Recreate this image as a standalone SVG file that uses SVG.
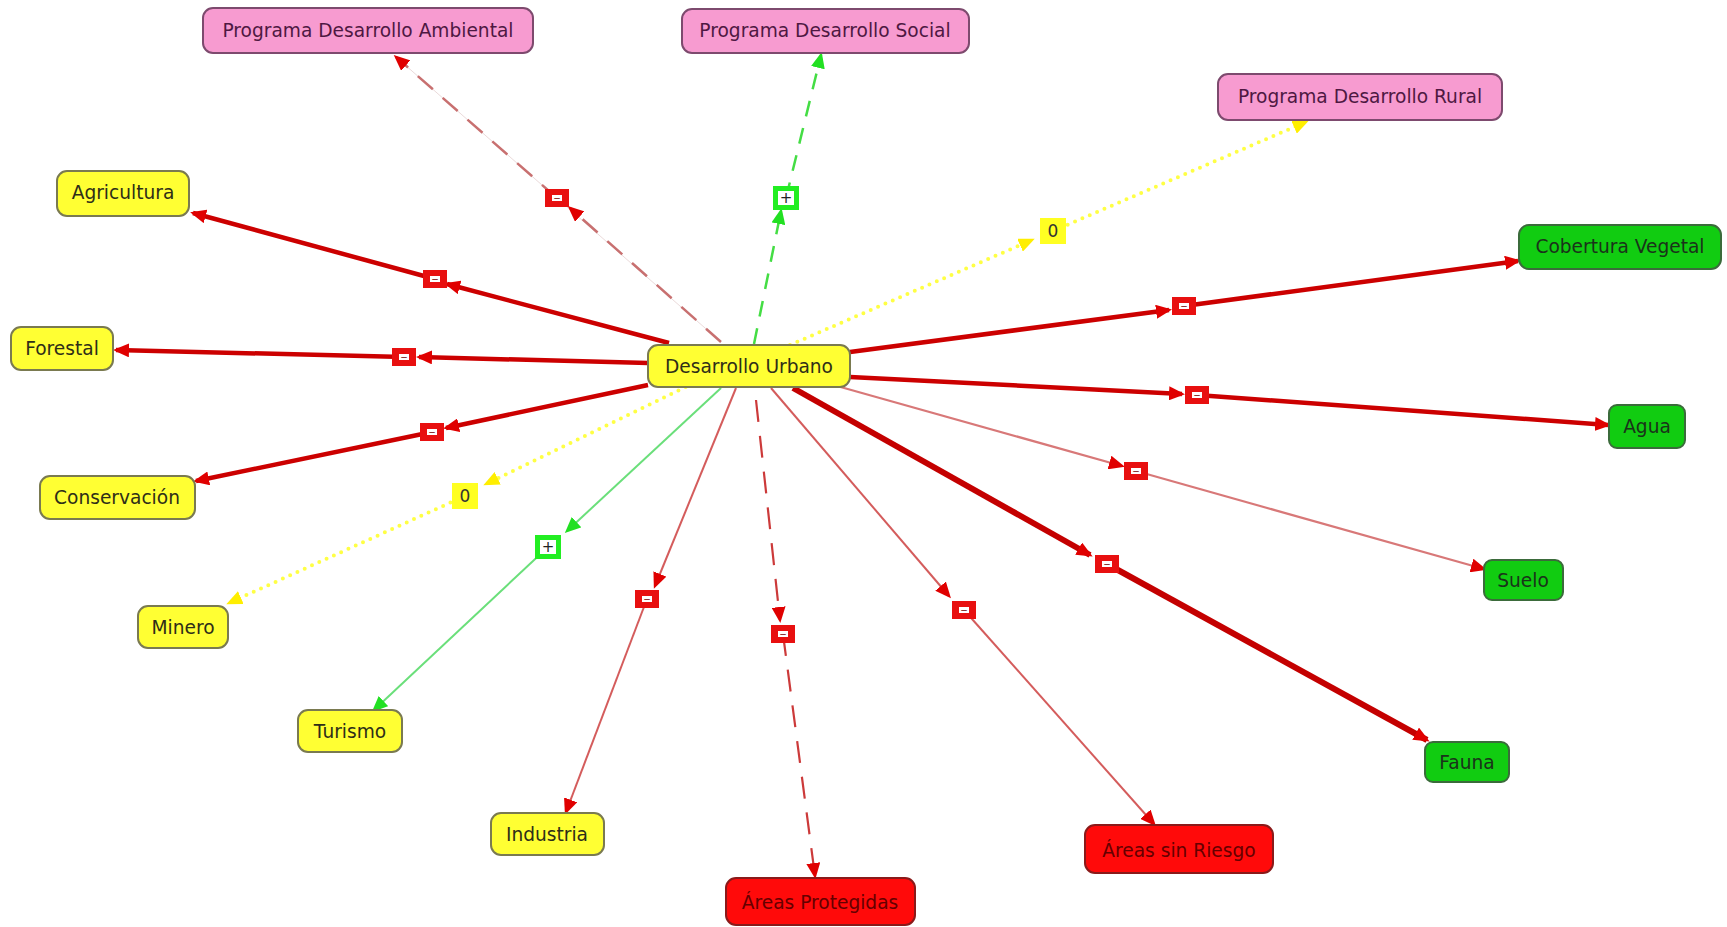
<svg xmlns="http://www.w3.org/2000/svg" width="1727" height="927" viewBox="0 0 1727 927">
  <style>
    .node rect { stroke-width: 2; }
    .node text { font-family: "DejaVu Sans", Verdana, sans-serif; font-size: 18.6px; text-anchor: middle; dominant-baseline: central; }
    .yellow rect { fill: #ffff33; stroke: #7a7a50; }
    .yellow text { fill: #2e2e18; }
    .pink rect { fill: #f79bd0; stroke: #7d4a6e; }
    .pink text { fill: #4e1842; }
    .green rect { fill: #11cc11; stroke: #3b6b3b; }
    .green text { fill: #1a331a; }
    .red rect { fill: #ff0a0a; stroke: #8a1a1a; }
    .red text { fill: #650000; }
    #connectors path { fill: none; }
    .thick { stroke: #cc0000; stroke-width: 4.5; }
    .thicker { stroke: #c40000; stroke-width: 6; }
    .thin { stroke: #d45c5c; stroke-width: 2; }
    .thinpink { stroke: #d87878; stroke-width: 2.2; }
    .dashred { stroke: #c87070; stroke-width: 2.5; stroke-dasharray: 20 13; }
    .dashred2 { stroke: #cc3a3a; stroke-width: 2.2; stroke-dasharray: 22 14; }
    .faint { stroke: #eadada; stroke-width: 1; }
    .dashgreen { stroke: #44dd44; stroke-width: 2.5; stroke-dasharray: 16 12; }
    .lightgreen { stroke: #6adf7a; stroke-width: 2; }
    .dotyellow { stroke: #ffff44; stroke-width: 4; stroke-dasharray: 0 8; stroke-linecap: round; }
  </style>
  <defs>
    <marker id="aRed" viewBox="0 0 16 14" refX="13" refY="7" markerWidth="16" markerHeight="14" markerUnits="userSpaceOnUse" orient="auto">
      <path d="M0,0 L16,7 L0,14 z" fill="#e00000"/>
    </marker>
    <marker id="aGreen" viewBox="0 0 16 14" refX="13" refY="7" markerWidth="16" markerHeight="14" markerUnits="userSpaceOnUse" orient="auto">
      <path d="M0,0 L16,7 L0,14 z" fill="#22e022"/>
    </marker>
    <marker id="aYellow" viewBox="0 0 16 14" refX="13" refY="7" markerWidth="16" markerHeight="14" markerUnits="userSpaceOnUse" orient="auto">
      <path d="M0,0 L16,7 L0,14 z" fill="#ffee00"/>
    </marker>
    <!-- relation badges -->
    <g id="minus">
      <rect x="-12" y="-9" width="24" height="18" fill="#e81010"/>
      <rect x="-5" y="-3" width="10" height="6" fill="#ffffff"/>
      <text x="0" y="-0.5" font-size="9" fill="#700000" font-family="DejaVu Sans, sans-serif" text-anchor="middle" dominant-baseline="central">−</text>
    </g>
    <g id="plus">
      <rect x="-13" y="-12" width="26" height="24" fill="#22ee22"/>
      <rect x="-8" y="-7" width="16" height="14" fill="#ffffff"/>
      <text x="0" y="0" font-size="15" fill="#222" font-family="DejaVu Sans, sans-serif" text-anchor="middle" dominant-baseline="central">+</text>
    </g>
    <g id="zero">
      <rect x="-13" y="-13" width="26" height="26" fill="#ffff22"/>
      <text x="0" y="0" font-size="17" fill="#333" font-family="DejaVu Sans, sans-serif" text-anchor="middle" dominant-baseline="central">0</text>
    </g>
  </defs>

  <rect width="1727" height="927" fill="#ffffff"/>

  <g id="connectors">
    <!-- to Programa Desarrollo Ambiental -->
    <path class="faint" d="M721,342 L396,57"/>
    <path class="dashred" d="M721,342 L570,208" marker-end="url(#aRed)"/>
    <path class="dashred" d="M557,198 L396,57" marker-end="url(#aRed)"/>
    <!-- to Programa Desarrollo Social -->
    <path class="dashgreen" d="M754,344 L781,211" marker-end="url(#aGreen)"/>
    <path class="dashgreen" d="M786,198 L821,55" marker-end="url(#aGreen)"/>
    <!-- to Programa Desarrollo Rural -->
    <path class="dotyellow" d="M790,345 L1032,240" marker-end="url(#aYellow)"/>
    <path class="dotyellow" d="M1053,231 L1306,122" marker-end="url(#aYellow)"/>
    <!-- to Agricultura -->
    <path class="thick" d="M669,343 L447,284" marker-end="url(#aRed)"/>
    <path class="thick" d="M435,279 L193,213" marker-end="url(#aRed)"/>
    <!-- to Forestal -->
    <path class="thick" d="M648,363 L419,357" marker-end="url(#aRed)"/>
    <path class="thick" d="M404,357 L116,350" marker-end="url(#aRed)"/>
    <!-- to Conservación -->
    <path class="thick" d="M648,385 L446,428" marker-end="url(#aRed)"/>
    <path class="thick" d="M432,432 L196,481" marker-end="url(#aRed)"/>
    <!-- to Minero -->
    <path class="dotyellow" d="M700,380 L486,484" marker-end="url(#aYellow)"/>
    <path class="dotyellow" d="M465,496 L229,603" marker-end="url(#aYellow)"/>
    <!-- to Turismo -->
    <path class="lightgreen" d="M721,388 L567,531" marker-end="url(#aGreen)"/>
    <path class="lightgreen" d="M548,547 L374,710" marker-end="url(#aGreen)"/>
    <!-- to Industria -->
    <path class="thin" d="M736,388 L655,586" marker-end="url(#aRed)"/>
    <path class="thin" d="M647,599 L566,812" marker-end="url(#aRed)"/>
    <!-- to Áreas Protegidas -->
    <path class="dashred2" d="M756,400 L780,620" marker-end="url(#aRed)"/>
    <path class="dashred2" d="M783,634 L815,876" marker-end="url(#aRed)"/>
    <!-- to Áreas sin Riesgo -->
    <path class="thin" d="M771,388 L949,596" marker-end="url(#aRed)"/>
    <path class="thin" d="M964,610 L1154,824" marker-end="url(#aRed)"/>
    <!-- to Fauna -->
    <path class="thicker" d="M793,388 L1090,555" marker-end="url(#aRed)"/>
    <path class="thicker" d="M1107,564 L1427,740" marker-end="url(#aRed)"/>
    <!-- to Suelo -->
    <path class="thinpink" d="M837,386 L1122,466" marker-end="url(#aRed)"/>
    <path class="thinpink" d="M1136,471 L1484,569" marker-end="url(#aRed)"/>
    <!-- to Agua -->
    <path class="thick" d="M850,377 L1182,394" marker-end="url(#aRed)"/>
    <path class="thick" d="M1197,395 L1608,425" marker-end="url(#aRed)"/>
    <!-- to Cobertura Vegetal -->
    <path class="thick" d="M850,352 L1169,310" marker-end="url(#aRed)"/>
    <path class="thick" d="M1184,306 L1518,261" marker-end="url(#aRed)"/>

    <!-- relation badges at mid points -->
    <g class="lbl">
      <use href="#minus" x="557" y="198"/>
      <use href="#plus" x="786" y="198"/>
      <use href="#zero" x="1053" y="231"/>
      <use href="#minus" x="435" y="279"/>
      <use href="#minus" x="404" y="357"/>
      <use href="#minus" x="432" y="432"/>
      <use href="#zero" x="465" y="496"/>
      <use href="#plus" x="548" y="547"/>
      <use href="#minus" x="647" y="599"/>
      <use href="#minus" x="783" y="634"/>
      <use href="#minus" x="964" y="610"/>
      <use href="#minus" x="1107" y="564"/>
      <use href="#minus" x="1136" y="471"/>
      <use href="#minus" x="1197" y="395"/>
      <use href="#minus" x="1184" y="306"/>
    </g>
  </g>

  <g id="n-urbano" class="node yellow">
    <rect x="648" y="345" width="202" height="42" rx="10"/>
    <text x="749" y="366">Desarrollo Urbano</text>
  </g>
  <g id="n-ambiental" class="node pink">
    <rect x="203" y="8" width="330" height="45" rx="10"/>
    <text x="368" y="30">Programa Desarrollo Ambiental</text>
  </g>
  <g id="n-social" class="node pink">
    <rect x="682" y="9" width="287" height="44" rx="10"/>
    <text x="825" y="30">Programa Desarrollo Social</text>
  </g>
  <g id="n-rural" class="node pink">
    <rect x="1218" y="74" width="284" height="46" rx="10"/>
    <text x="1360" y="96">Programa Desarrollo Rural</text>
  </g>
  <g id="n-agricultura" class="node yellow">
    <rect x="57" y="171" width="132" height="45" rx="10"/>
    <text x="123" y="192">Agricultura</text>
  </g>
  <g id="n-forestal" class="node yellow">
    <rect x="11" y="327" width="102" height="43" rx="10"/>
    <text x="62" y="348">Forestal</text>
  </g>
  <g id="n-conservacion" class="node yellow">
    <rect x="40" y="476" width="155" height="43" rx="10"/>
    <text x="117" y="497">Conservación</text>
  </g>
  <g id="n-minero" class="node yellow">
    <rect x="138" y="606" width="90" height="42" rx="10"/>
    <text x="183" y="627">Minero</text>
  </g>
  <g id="n-turismo" class="node yellow">
    <rect x="298" y="710" width="104" height="42" rx="10"/>
    <text x="350" y="731">Turismo</text>
  </g>
  <g id="n-industria" class="node yellow">
    <rect x="491" y="813" width="113" height="42" rx="10"/>
    <text x="547" y="834">Industria</text>
  </g>
  <g id="n-protegidas" class="node red">
    <rect x="726" y="878" width="189" height="47" rx="10"/>
    <text x="820" y="902">Áreas Protegidas</text>
  </g>
  <g id="n-sinriesgo" class="node red">
    <rect x="1085" y="825" width="188" height="48" rx="10"/>
    <text x="1179" y="850">Áreas sin Riesgo</text>
  </g>
  <g id="n-fauna" class="node green">
    <rect x="1425" y="742" width="84" height="40" rx="8"/>
    <text x="1467" y="762">Fauna</text>
  </g>
  <g id="n-suelo" class="node green">
    <rect x="1484" y="560" width="79" height="40" rx="8"/>
    <text x="1523" y="580">Suelo</text>
  </g>
  <g id="n-agua" class="node green">
    <rect x="1609" y="405" width="76" height="43" rx="8"/>
    <text x="1647" y="426">Agua</text>
  </g>
  <g id="n-cobertura" class="node green">
    <rect x="1519" y="225" width="202" height="44" rx="10"/>
    <text x="1620" y="246">Cobertura Vegetal</text>
  </g>
</svg>
